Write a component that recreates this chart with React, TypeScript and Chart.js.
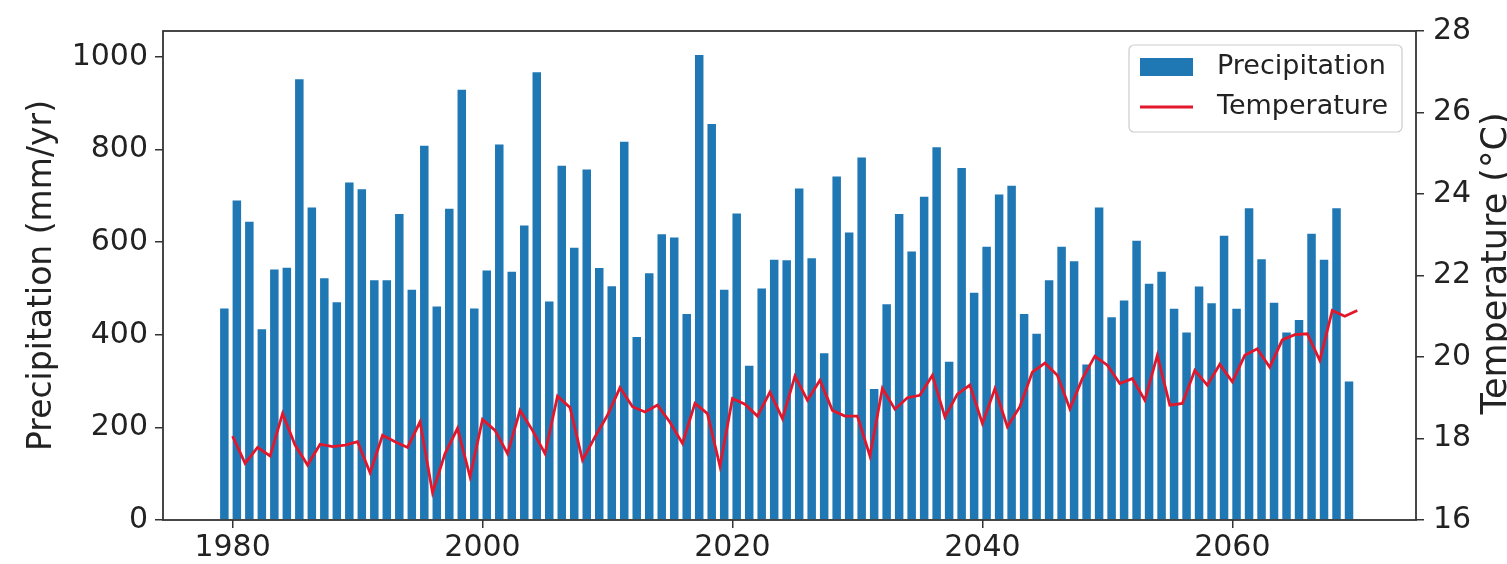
import React, { useEffect, useRef } from 'react';
import { Chart, registerables } from 'chart.js';

Chart.register(...registerables);

// ---- data ----
const PRECIP_START_YEAR = 1979;
const precipitation = [
  457, 690, 644, 412, 541, 545, 952, 675, 522, 470,
  729, 714, 518, 518, 661, 497, 808, 461, 672, 929,
  457, 539, 811, 536, 636, 967, 472, 765, 588, 757,
  544, 505, 817, 395, 533, 617, 610, 445, 1004, 855,
  497, 662, 333, 500, 562, 561, 716, 565, 360, 742,
  621, 783, 283, 466, 661, 580, 698, 805, 342, 760,
  491, 590, 703, 722, 445, 402, 518, 590, 559, 336,
  675, 438, 474, 603, 510, 536, 456, 405, 504, 468,
  614, 456, 673, 563, 469, 405, 432, 618, 562, 673,
  299,
];

const TEMP_START_YEAR = 1980;
const temperature = [
  18.06, 17.39, 17.78, 17.57, 18.61, 17.84, 17.35, 17.86, 17.8, 17.84,
  17.92, 17.16, 18.08, 17.92, 17.78, 18.41, 16.67, 17.63, 18.25, 17.06,
  18.47, 18.2, 17.63, 18.69, 18.2, 17.63, 19.04, 18.76, 17.47, 18.04,
  18.57, 19.25, 18.78, 18.65, 18.82, 18.4, 17.88, 18.86, 18.61, 17.32,
  18.98, 18.84, 18.55, 19.14, 18.49, 19.53, 18.94, 19.43, 18.69, 18.55,
  18.55, 17.57, 19.23, 18.72, 19.0, 19.06, 19.55, 18.53, 19.09, 19.31,
  18.37, 19.22, 18.29, 18.78, 19.63, 19.85, 19.55, 18.73, 19.47, 20.02,
  19.8, 19.35, 19.47, 18.94, 20.04, 18.82, 18.86, 19.67, 19.31, 19.82,
  19.39, 20.04, 20.2, 19.75, 20.42, 20.55, 20.57, 19.92, 21.14, 21.0,
  21.14,
];

const xTicks = [1980, 2000, 2020, 2040, 2060];
const precipTicks = [0, 200, 400, 600, 800, 1000];
const tempTicks = [16, 18, 20, 22, 24, 26, 28];

const precipYears = precipitation.map((_, i) => PRECIP_START_YEAR + i);
const tempYears = temperature.map((_, i) => TEMP_START_YEAR + i);

// ---- style ----
const FONT = '"DejaVu Sans", sans-serif';
const BAR_COLOR = '#1f77b4';
const LINE_COLOR = '#e3172b';
const AXIS_COLOR = '#333333';
const TEXT_COLOR = '#222222';
const BAR_FRAC = 0.68; // bars drawn edge-aligned from the year tick

const W = 1507;
const H = 564;

const decorPlugin = {
  id: 'decor',
  afterDatasetsDraw(chart: any) {
    const { ctx, chartArea: a } = chart;
    ctx.save();
    // frame
    ctx.strokeStyle = AXIS_COLOR;
    ctx.lineWidth = 1.8;
    ctx.strokeRect(a.left, a.top, a.right - a.left, a.bottom - a.top);

    // legend
    const bw = 273;
    const bh = 87;
    const bx = a.right - 14 - bw;
    const by = a.top + 14;
    ctx.beginPath();
    (ctx as any).roundRect(bx, by, bw, bh, 5);
    ctx.fillStyle = 'rgba(255,255,255,0.85)';
    ctx.fill();
    ctx.strokeStyle = '#cccccc';
    ctx.lineWidth = 1.2;
    ctx.stroke();

    const hx = bx + 11;
    const hl = 53;
    const y1 = by + 22;
    const y2 = by + 62;
    ctx.fillStyle = BAR_COLOR;
    ctx.fillRect(hx, y1 - 9, hl, 18);
    ctx.strokeStyle = LINE_COLOR;
    ctx.lineWidth = 2.8;
    ctx.beginPath();
    ctx.moveTo(hx, y2);
    ctx.lineTo(hx + hl, y2);
    ctx.stroke();

    ctx.fillStyle = TEXT_COLOR;
    ctx.font = `27px ${FONT}`;
    ctx.textAlign = 'left';
    ctx.textBaseline = 'middle';
    ctx.fillText('Precipitation', bx + 88, y1);
    ctx.fillText('Temperature', bx + 88, y2);
    ctx.restore();
  },
  afterDraw(chart: any) {
    const { ctx, chartArea: a } = chart;
    const cy = (a.top + a.bottom) / 2;
    ctx.save();
    ctx.fillStyle = TEXT_COLOR;
    ctx.font = `33px ${FONT}`;
    ctx.textAlign = 'center';
    ctx.textBaseline = 'middle';
    ctx.translate(42, cy);
    ctx.rotate(-Math.PI / 2);
    ctx.fillText('Precipitation (mm/yr)', 0, 0);
    ctx.restore();

    ctx.save();
    ctx.fillStyle = TEXT_COLOR;
    ctx.font = `35px ${FONT}`;
    ctx.textAlign = 'center';
    ctx.textBaseline = 'middle';
    ctx.translate(1497, cy - 12);
    ctx.rotate(-Math.PI / 2);
    ctx.fillText('Temperature (°C)', 0, 0);
    ctx.restore();
  },
};

const gridOpts = {
  display: true,
  drawOnChartArea: false,
  drawTicks: true,
  tickLength: 8,
  color: AXIS_COLOR,
  lineWidth: 1.5,
  offset: false,
};

export default function App() {
  const ref = useRef<HTMLCanvasElement | null>(null);

  useEffect(() => {
    document.body.style.margin = '0';
    const canvas = ref.current;
    if (!canvas) return;
    const chart = new Chart(canvas, {
      type: 'bar',
      data: {
        datasets: [
          {
            type: 'line',
            label: 'Temperature',
            data: tempYears.map((yr, i) => ({ x: yr, y: temperature[i] })),
            yAxisID: 'y1',
            borderColor: LINE_COLOR,
            borderWidth: 2.8,
            pointRadius: 0,
            tension: 0,
            fill: false,
            order: 0,
          } as any,
          {
            type: 'bar',
            label: 'Precipitation',
            data: precipYears.map((yr, i) => ({ x: yr + BAR_FRAC / 2, y: precipitation[i] })),
            yAxisID: 'y',
            backgroundColor: BAR_COLOR,
            borderWidth: 0,
            barPercentage: BAR_FRAC,
            categoryPercentage: 1,
            order: 1,
          } as any,
        ],
      },
      options: {
        animation: false,
        responsive: false,
        maintainAspectRatio: false,
        devicePixelRatio: 1,
        layout: { padding: { top: 31, left: 0, right: 0, bottom: 0 } },
        plugins: {
          legend: { display: false },
          tooltip: { enabled: false },
          title: { display: false },
        },
        scales: {
          x: {
            type: 'linear',
            min: 1974.43,
            max: 2074.7,
            offset: false,
            afterBuildTicks: (s: any) => {
              s.ticks = xTicks.map((v) => ({ value: v }));
            },
            afterFit: (s: any) => {
              s.height = H - 520;
            },
            grid: gridOpts,
            border: { display: false },
            ticks: {
              font: { family: FONT, size: 30 },
              color: TEXT_COLOR,
              padding: 2,
              maxRotation: 0,
              autoSkip: false,
              callback: (v: any) => String(v),
            },
          },
          y: {
            type: 'linear',
            position: 'left',
            min: 0,
            max: 1056,
            afterBuildTicks: (s: any) => {
              s.ticks = precipTicks.map((v) => ({ value: v }));
            },
            afterFit: (s: any) => {
              s.width = 163;
            },
            grid: gridOpts,
            border: { display: false },
            ticks: {
              font: { family: FONT, size: 30 },
              color: TEXT_COLOR,
              padding: 7,
              autoSkip: false,
              callback: (v: any) => String(v),
            },
          },
          y1: {
            type: 'linear',
            position: 'right',
            min: 16,
            max: 28,
            afterBuildTicks: (s: any) => {
              s.ticks = tempTicks.map((v) => ({ value: v }));
            },
            afterFit: (s: any) => {
              s.width = W - 1416;
            },
            grid: gridOpts,
            border: { display: false },
            ticks: {
              font: { family: FONT, size: 30 },
              color: TEXT_COLOR,
              padding: 9,
              autoSkip: false,
              callback: (v: any) => String(v),
            },
          },
        },
      } as any,
      plugins: [decorPlugin],
    });
    return () => chart.destroy();
  }, []);

  return (
    <div style={{ width: W, height: H, background: '#ffffff' }}>
      <canvas ref={ref} width={W} height={H} style={{ display: 'block' }} />
    </div>
  );
}
